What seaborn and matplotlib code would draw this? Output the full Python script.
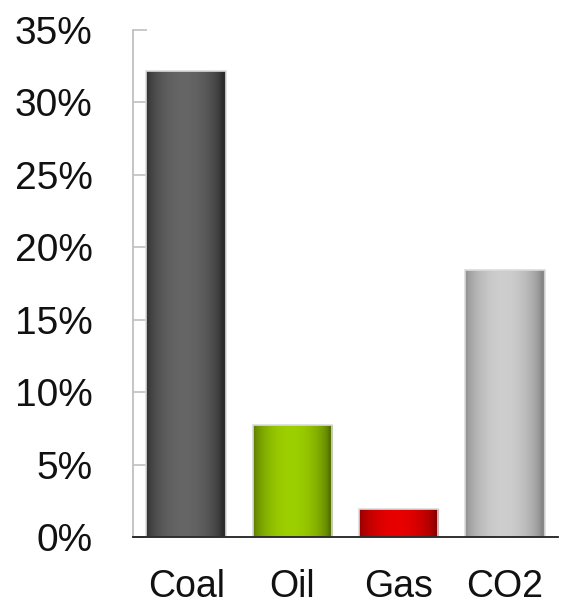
import numpy as np
import pandas as pd
import matplotlib
matplotlib.use("Agg")
import matplotlib.pyplot as plt
import seaborn as sns
from matplotlib.colors import to_rgb
from matplotlib.ticker import FuncFormatter

categories = ["Coal", "Oil", "Gas", "CO2"]
values = [32.2, 7.75, 1.9, 18.4]
edge_colors = ["#2c2c2c", "#557300", "#8a0000", "#888888"]
center_colors = ["#666666", "#9dd000", "#e80000", "#cecece"]
ytick_values = [0, 5, 10, 15, 20, 25, 30, 35]

sns.set_theme(style="white")
plt.rcParams['font.family'] = ['Liberation Sans', 'DejaVu Sans']

fig = plt.figure(figsize=(5.62, 6.06), dpi=100)
ax = fig.add_axes([0.2367, 0.1139, 0.7562, 0.8366])

df = pd.DataFrame({"cat": categories, "val": values})
sns.barplot(data=df, x="cat", y="val", ax=ax, width=0.75, color="white",
            saturation=1, edgecolor="#dcdcdc", linewidth=1.2, zorder=3)

for patch, ec, cc in zip(ax.patches, edge_colors, center_colors):
    patch.set_facecolor("none")
    x0 = patch.get_x()
    w = patch.get_width()
    h = patch.get_height()
    t = np.linspace(0, 1, 200)
    prof = np.sin(np.pi * np.clip(t * 1.05, 0, 1)) ** 0.6
    e = np.array(to_rgb(ec))
    c = np.array(to_rgb(cc))
    row = e[None, :] + (c - e)[None, :] * prof[:, None]
    img = np.repeat(row[None, :, :], 2, axis=0)
    im = ax.imshow(img, extent=(x0, x0 + w, 0, h), aspect="auto",
                   origin="lower", zorder=2, interpolation="bilinear")
    im.set_clip_path(patch)

ax.set_xlim(-0.5, 3.5)
ax.set_ylim(0, 35)
ax.set_yticks(ytick_values)
ax.yaxis.set_major_formatter(FuncFormatter(lambda v, p: f"{int(v)}%"))
ax.set_xlabel("")
ax.set_ylabel("")

for s in ["top", "right"]:
    ax.spines[s].set_visible(False)
ax.spines["left"].set_color("#c0c0c0")
ax.spines["left"].set_linewidth(1.3)
ax.spines["bottom"].set_color("#202020")
ax.spines["bottom"].set_linewidth(1.3)
ax.spines["bottom"].set_zorder(4)

ax.tick_params(axis="y", direction="in", length=10, width=1.2, color="#c0c0c0",
               labelsize=28, pad=29, labelcolor="#111111", left=True)
ax.tick_params(axis="x", length=0, labelsize=27, pad=23, labelcolor="#111111")

fig.savefig("out.png", dpi=100, facecolor="white")
